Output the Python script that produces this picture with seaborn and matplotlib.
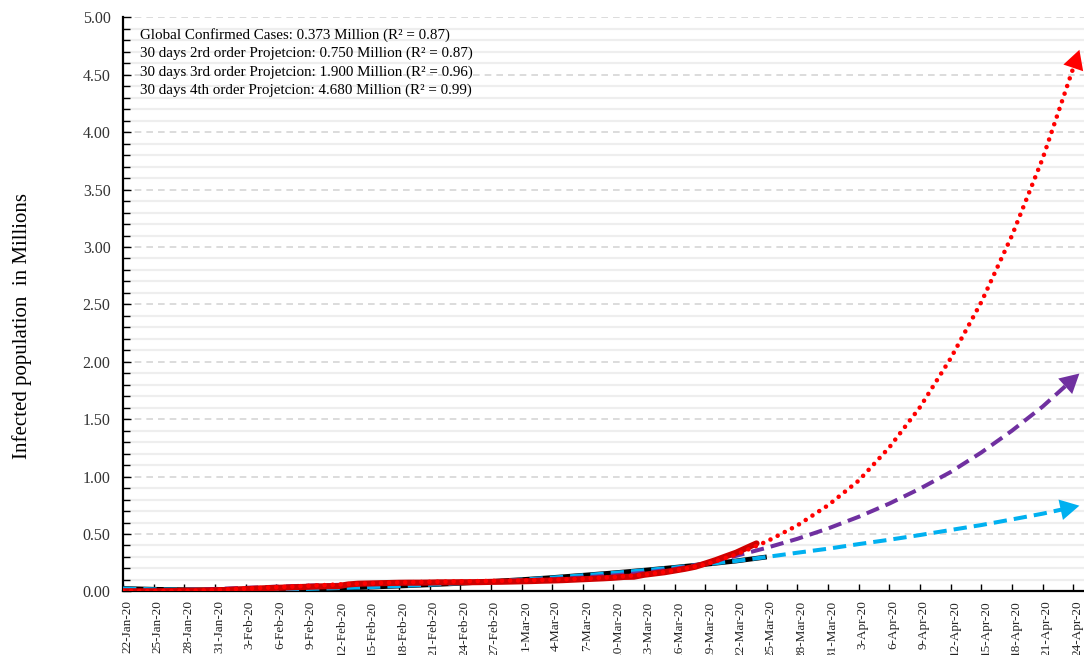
import numpy as np
import pandas as pd
import matplotlib
matplotlib.use("Agg")
import matplotlib.pyplot as plt
import seaborn as sns
from matplotlib.ticker import MultipleLocator, FixedLocator, FormatStrFormatter
from matplotlib.transforms import ScaledTranslation

# ---------------------------------------------------------------------------
# Data (millions of confirmed cases)
# ---------------------------------------------------------------------------
start_date = pd.Timestamp("2020-01-22")

# Daily global confirmed cases, 22-Jan-20 .. 24-Mar-20
actual_cases = [
    0.001, 0.001, 0.001, 0.001, 0.002, 0.003, 0.006, 0.006, 0.008, 0.010,
    0.012, 0.017, 0.020, 0.024, 0.028, 0.031, 0.034, 0.037, 0.040, 0.043,
    0.045, 0.045, 0.060, 0.067, 0.069, 0.071, 0.073, 0.075, 0.076, 0.076,
    0.077, 0.079, 0.079, 0.080, 0.080, 0.081, 0.083, 0.084, 0.086, 0.088,
    0.090, 0.093, 0.095, 0.098, 0.102, 0.106, 0.110, 0.114, 0.119, 0.126,
    0.128, 0.145, 0.156, 0.167, 0.182, 0.197, 0.215, 0.243, 0.272, 0.305,
    0.337, 0.378, 0.418,
]

# Trend / projection curves sampled every 3 days, 22-Jan-20 .. 24-Apr-20
fit_2nd = [
    0.025, 0.018, 0.014, 0.013, 0.014, 0.017, 0.022, 0.029, 0.037, 0.047,
    0.058, 0.071, 0.086, 0.102, 0.120, 0.140, 0.161, 0.184, 0.209, 0.236,
    0.265, 0.300, 0.337, 0.372, 0.412, 0.450, 0.491, 0.535, 0.578, 0.627,
    0.677, 0.735,
]
fit_3rd = [
    0.005, 0.006, 0.012, 0.021, 0.031, 0.041, 0.050, 0.057, 0.063, 0.069,
    0.074, 0.080, 0.087, 0.096, 0.107, 0.121, 0.139, 0.162, 0.195, 0.245,
    0.310, 0.380, 0.458, 0.548, 0.650, 0.765, 0.895, 1.040, 1.210, 1.400,
    1.610, 1.850,
]
fit_4th = [
    0.004, 0.002, 0.004, 0.012, 0.024, 0.036, 0.048, 0.060, 0.070, 0.078,
    0.083, 0.087, 0.091, 0.095, 0.101, 0.110, 0.124, 0.146, 0.180, 0.235,
    0.320, 0.435, 0.575, 0.750, 0.965, 1.255, 1.605, 2.030, 2.520, 3.100,
    3.770, 4.560,
]
# the trend over the observed period ends on 25-Mar-20 (index 21)
observed_trend_last = 21

tick_days = list(range(0, 94, 3))
tick_labels = [(start_date + pd.Timedelta(days=d)).strftime("%-d-%b-%y")
               for d in tick_days]

legend_lines = [
    "Global Confirmed Cases: 0.373 Million (R² = 0.87)",
    "30 days 2rd order Projetcion: 0.750 Million (R² = 0.87)",
    "30 days 3rd order Projetcion: 1.900 Million (R² = 0.96)",
    "30 days 4th order Projetcion: 4.680 Million (R² = 0.99)",
]

# ---------------------------------------------------------------------------
# Frames
# ---------------------------------------------------------------------------
actual_df = pd.DataFrame({"day": np.arange(len(actual_cases)), "cases": actual_cases})
fits_df = pd.DataFrame({"day": tick_days, "f2": fit_2nd, "f3": fit_3rd, "f4": fit_4th})
trend_df = fits_df.iloc[: observed_trend_last + 1]

# ---------------------------------------------------------------------------
# Style
# ---------------------------------------------------------------------------
sns.set_theme(style="white")
plt.rcParams["font.family"] = ["Liberation Serif", "DejaVu Serif"]
plt.rcParams["axes.unicode_minus"] = False

fig = plt.figure(figsize=(10.84, 6.55), dpi=100)
ax = fig.add_axes([0.1135, 0.0971, 0.8865, 0.8763])

RED_DARK = "#D00000"
RED = "#FF0000"
CYAN = "#00B0F0"
PURPLE = "#7030A0"

sns.lineplot(data=trend_df, x="day", y="f2", ax=ax, color="black",
             lw=3.5, zorder=2, solid_capstyle="butt")
sns.lineplot(data=fits_df, x="day", y="f2", ax=ax, color=CYAN,
             lw=2.9, zorder=3, linestyle=(0, (3.3, 1.75)), dash_capstyle="butt")
sns.lineplot(data=fits_df, x="day", y="f3", ax=ax, color=PURPLE,
             lw=2.9, zorder=4, linestyle=(0, (3.3, 1.75)), dash_capstyle="butt")
sns.lineplot(data=actual_df, x="day", y="cases", ax=ax, color=RED_DARK,
             lw=4.4, zorder=5, solid_capstyle="round")
sns.lineplot(data=fits_df, x="day", y="f4", ax=ax, color=RED,
             lw=3.3, zorder=6, linestyle=(0, (0.01, 1.75)), dash_capstyle="round")

# arrow heads at the ends of the projections
for col, colr in (("f2", CYAN), ("f3", PURPLE), ("f4", RED)):
    d0, d1 = fits_df["day"].iloc[-2], fits_df["day"].iloc[-1]
    v0, v1 = fits_df[col].iloc[-2], fits_df[col].iloc[-1]
    slope = (v1 - v0) / (d1 - d0)
    tip = (d1 + 0.6, v1 + slope * 0.6)
    ax.annotate("", xy=tip, xytext=(d0, v0),
                arrowprops=dict(arrowstyle="-|>,head_length=0.55,head_width=0.3",
                                color=colr, lw=0, shrinkA=0, shrinkB=0,
                                mutation_scale=25),
                zorder=7)

# ---------------------------------------------------------------------------
# Axes
# ---------------------------------------------------------------------------
ax.set_xlim(0, 94.05)
ax.set_ylim(0, 5)
ax.xaxis.set_major_locator(FixedLocator(tick_days))
ax.set_xticklabels(tick_labels, rotation=90, fontsize=9.5, color="#222222")
ax.yaxis.set_major_locator(MultipleLocator(0.5))
ax.yaxis.set_minor_locator(MultipleLocator(0.1))
ax.yaxis.set_major_formatter(FormatStrFormatter("%.2f"))
for lab in ax.get_yticklabels():
    lab.set_fontsize(11.5)
    lab.set_color("#333333")

ax.tick_params(axis="x", which="major", direction="in", length=5, width=1.0,
               pad=6.5, color="black", bottom=True)
ax.tick_params(axis="y", which="major", direction="in", length=6, width=1.0,
               pad=9, color="black", left=True)
ax.tick_params(axis="y", which="minor", direction="in", length=5, width=1.0,
               color="black", left=True)

shift = ScaledTranslation(4 / 100, 0, fig.dpi_scale_trans)
for lab in ax.get_xticklabels():
    lab.set_transform(lab.get_transform() + shift)

ax.set_axisbelow(True)
ax.grid(False)
ax.grid(which="minor", axis="y", color="#EEEEEE", lw=1.6, ls="-")
ax.grid(which="major", axis="y", color="#D6D6D6", lw=1.2, ls=(0, (4, 3)))

for side in ("top", "right"):
    ax.spines[side].set_visible(False)
for side in ("left", "bottom"):
    ax.spines[side].set_color("black")
    ax.spines[side].set_linewidth(1.6)

ax.set_xlabel("")
ax.set_ylabel("")
fig.text(0.0203, 0.5023, "Infected population  in Millions", rotation=90,
         ha="center", va="center", fontsize=15, color="black")

for k, line in enumerate(legend_lines):
    ax.text(0.0177, 0.9693 - 0.0322 * k, line, transform=ax.transAxes,
            ha="left", va="center", fontsize=10.8, color="black", zorder=8)

fig.savefig("out.png", dpi=100)
